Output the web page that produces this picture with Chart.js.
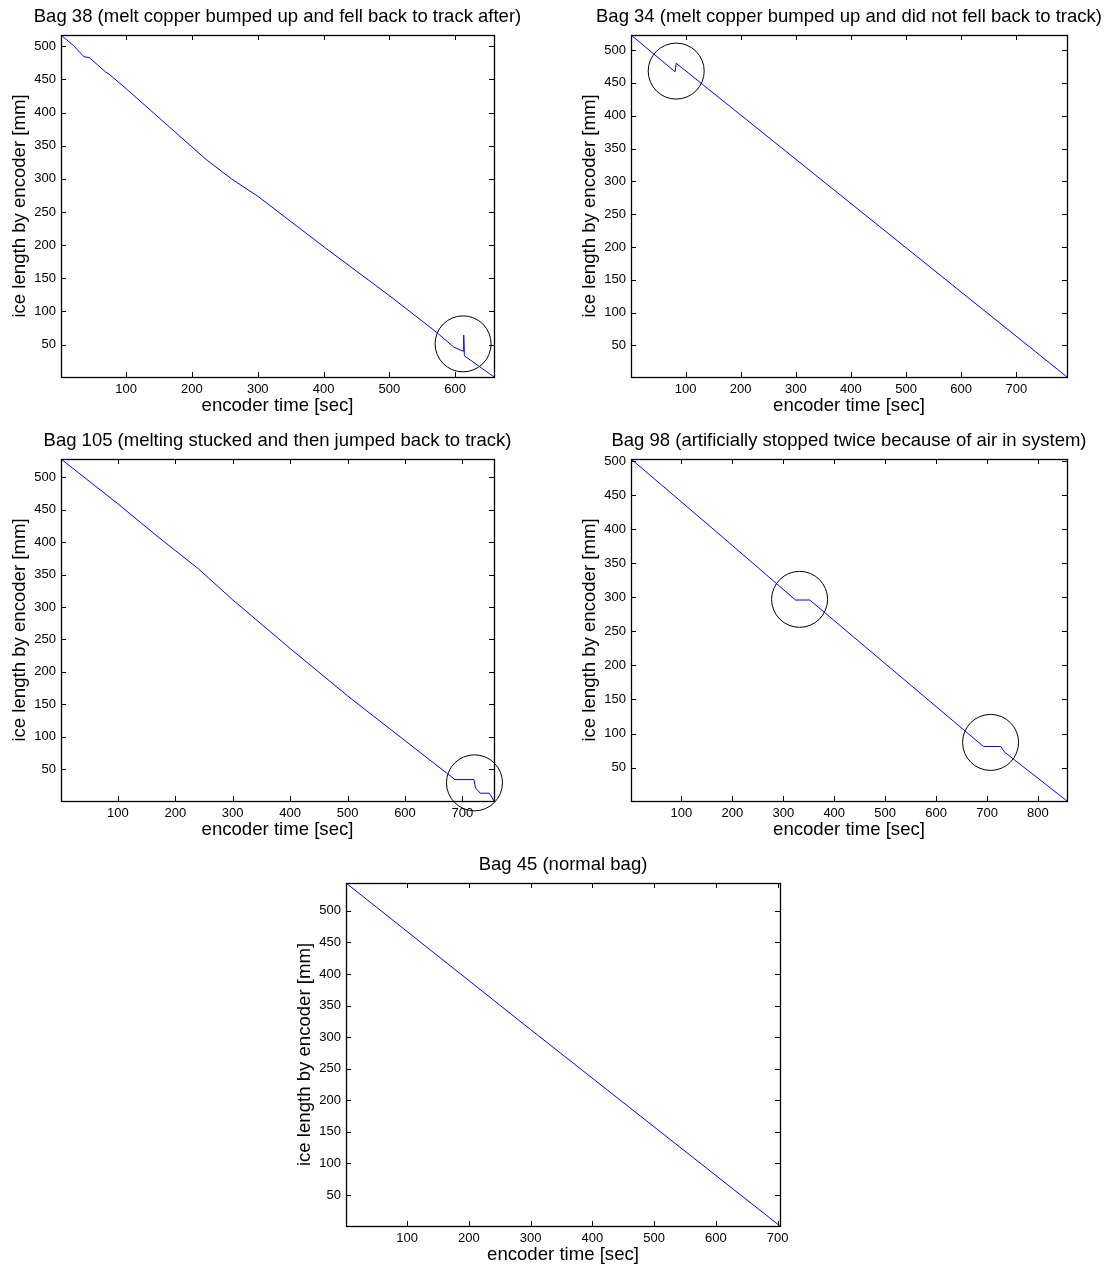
<!DOCTYPE html>
<html>
<head>
<meta charset="utf-8">
<title>Encoder ice length per bag</title>
<script src="https://cdn.jsdelivr.net/npm/chart.js@4.4.1/dist/chart.umd.min.js"></script>
<style>
  html, body { margin: 0; padding: 0; background: #fff; overflow: hidden; }
  body { position: relative; width: 1112px; height: 1270px; }
  canvas { position: absolute; }
</style>
</head>
<body>
<canvas id="bag38"></canvas>
<canvas id="bag34"></canvas>
<canvas id="bag105"></canvas>
<canvas id="bag98"></canvas>
<canvas id="bag45"></canvas>
<script>
// encoder time [sec] vs ice length [mm], one pair of arrays per bag
var bag38Time   = [1, 20, 36, 44, 69, 74, 100, 150, 200, 223, 260, 301, 401, 501, 571, 598, 612, 613, 614, 659];
var bag38Length = [517, 501, 484, 483, 461, 458, 436, 392, 348, 328, 300, 273, 197, 123, 69, 46, 40, 64, 33, 1];

var bag34Time   = [1, 81, 83, 792];
var bag34Length = [523, 467, 480, 2];

var bag105Time   = [1, 100, 170, 200, 240, 300, 400, 500, 600, 687, 720, 723, 731, 747, 755];
var bag105Length = [528, 459, 408, 387, 359, 311, 236, 163, 94, 34, 34, 21, 13, 13, 1];

var bag98Time   = [1, 100, 200, 324, 352, 693, 727, 734, 857];
var bag98Length = [503, 440, 376, 296, 296, 81, 81, 73, 1];

var bag45Time   = [1, 300, 704];
var bag45Length = [544, 312, 1];

// circled trouble spots (time, length)
var bag38Marks  = {time: [612], length: [51]};
var bag34Marks  = {time: [83], length: [468]};
var bag105Marks = {time: [721], length: [29]};
var bag98Marks  = {time: [332, 707], length: [297, 87]};

// tick labels
var lengthTicks = [50, 100, 150, 200, 250, 300, 350, 400, 450, 500];
var time600Ticks = [100, 200, 300, 400, 500, 600];
var time700Ticks = [100, 200, 300, 400, 500, 600, 700];
var time800Ticks = [100, 200, 300, 400, 500, 600, 700, 800];

var FONT = "'Liberation Sans', Arial, Helvetica, sans-serif";
// side margins are equal so the title sits centred over the axes box
var SIDE_W = 61, TITLE_H = 35, X_AXIS_H = 40;

function toPoints(xs, ys) {
    return xs.map(function(x, i){ return {x: x, y: ys[i]}; });
}

// matlab style frame: box all round with ticks pointing inwards
var boxTicks = {
    id: 'boxTicks',
    afterDraw: function(chart) {
        var ctx = chart.ctx, a = chart.chartArea;
        var x = chart.scales.x, y = chart.scales.y;
        var len = 5;
        ctx.save();
        ctx.strokeStyle = '#000';
        ctx.lineWidth = 1;
        ctx.beginPath();
        x.ticks.forEach(function(t){
            var px = Math.round(x.getPixelForValue(t.value)) + 0.5;
            ctx.moveTo(px, a.bottom); ctx.lineTo(px, a.bottom - len);
            ctx.moveTo(px, a.top); ctx.lineTo(px, a.top + len);
        });
        y.ticks.forEach(function(t){
            var py = Math.round(y.getPixelForValue(t.value)) + 0.5;
            ctx.moveTo(a.left, py); ctx.lineTo(a.left + len, py);
            ctx.moveTo(a.right, py); ctx.lineTo(a.right - len, py);
        });
        ctx.stroke();
        ctx.lineWidth = 1.3;
        ctx.strokeRect(Math.round(a.left) + 0.5, Math.round(a.top) + 0.5,
                       Math.round(a.right - a.left), Math.round(a.bottom - a.top));
        ctx.restore();
    }
};

function drawBag(id, title, time, length, marks, xTicks, box) {
    var canvas = document.getElementById(id);
    var w = SIDE_W + box.w + SIDE_W;
    var h = TITLE_H + box.h + X_AXIS_H;
    canvas.width = w;
    canvas.height = h;
    canvas.style.left = (box.left - SIDE_W) + 'px';
    canvas.style.top = (box.top - TITLE_H) + 'px';
    canvas.style.width = w + 'px';
    canvas.style.height = h + 'px';

    var datasets = [{
        data: toPoints(time, length),
        borderColor: '#0000ff',
        borderWidth: 1,
        pointRadius: 0,
        tension: 0,
        fill: false
    }];
    if (marks) {
        datasets.push({
            data: toPoints(marks.time, marks.length),
            showLine: false,
            pointStyle: 'circle',
            pointRadius: 28,
            pointHoverRadius: 28,
            pointBorderColor: '#000',
            pointBorderWidth: 1,
            pointBackgroundColor: 'rgba(0,0,0,0)',
            clip: false
        });
    }

    new Chart(canvas.getContext('2d'), {
        type: 'line',
        data: { datasets: datasets },
        options: {
            responsive: false,
            animation: false,
            events: [],
            layout: { padding: 0 },
            plugins: {
                legend: { display: false },
                tooltip: { enabled: false },
                title: {
                    display: true,
                    text: title,
                    color: '#000',
                    font: { family: FONT, size: 18.5, weight: 'normal' },
                    padding: { top: 6, bottom: 6.8 }
                }
            },
            scales: {
                x: {
                    type: 'linear',
                    min: Math.min.apply(null, time),
                    max: Math.max.apply(null, time),
                    afterBuildTicks: function(s){ s.ticks = xTicks.map(function(v){ return {value: v}; }); },
                    afterFit: function(s){ s.height = X_AXIS_H; },
                    grid: { display: false, drawTicks: false },
                    border: { display: false },
                    ticks: { autoSkip: false, maxRotation: 0, padding: 5, color: '#000',
                             font: { family: FONT, size: 13 } },
                    title: { display: true, text: 'encoder time [sec]', color: '#000', padding: 0,
                             font: { family: FONT, size: 18.6 } }
                },
                y: {
                    type: 'linear',
                    min: Math.min.apply(null, length),
                    max: Math.max.apply(null, length),
                    afterBuildTicks: function(s){ s.ticks = lengthTicks.map(function(v){ return {value: v}; }); },
                    afterFit: function(s){ s.width = SIDE_W; },
                    grid: { display: false, drawTicks: false },
                    border: { display: false },
                    ticks: { autoSkip: false, padding: 5, color: '#000',
                             font: { family: FONT, size: 13 } },
                    title: { display: true, text: 'ice length by encoder [mm]', color: '#000',
                             padding: { top: 8.5, bottom: 0 },
                             font: { family: FONT, size: 18.6 } }
                },
                // empty right-hand axis, only keeps the margin symmetric
                yRight: {
                    type: 'linear',
                    position: 'right',
                    display: true,
                    afterFit: function(s){ s.width = SIDE_W; },
                    grid: { display: false, drawTicks: false },
                    border: { display: false },
                    ticks: { display: false }
                }
            }
        },
        plugins: [boxTicks]
    });
}

drawBag('bag38', 'Bag 38 (melt copper bumped up and fell back to track after)',
        bag38Time, bag38Length, bag38Marks, time600Ticks, {left: 61, top: 35, w: 433, h: 342});
drawBag('bag34', 'Bag 34 (melt copper bumped up and did not fell back to track)',
        bag34Time, bag34Length, bag34Marks, time700Ticks, {left: 631, top: 35, w: 436, h: 342});
drawBag('bag105', 'Bag 105 (melting stucked and then jumped back to track)',
        bag105Time, bag105Length, bag105Marks, time700Ticks, {left: 61, top: 459, w: 433, h: 342});
drawBag('bag98', 'Bag 98 (artificially stopped twice because of air in system)',
        bag98Time, bag98Length, bag98Marks, time800Ticks, {left: 631, top: 459, w: 436, h: 342});
drawBag('bag45', 'Bag 45 (normal bag)',
        bag45Time, bag45Length, null, time700Ticks, {left: 346, top: 883, w: 434, h: 343});
</script>
</body>
</html>
